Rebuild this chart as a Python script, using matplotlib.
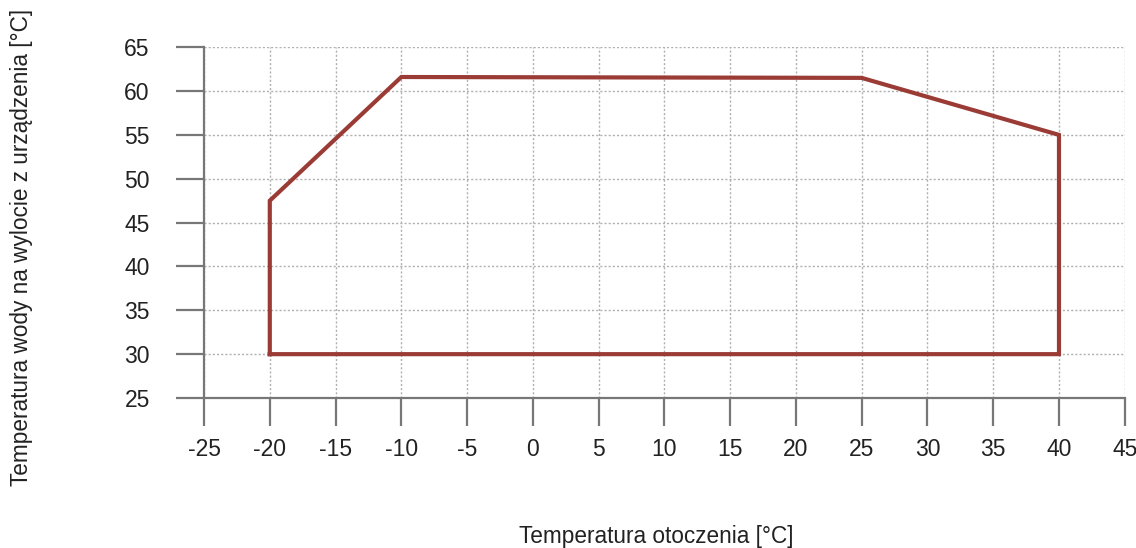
import matplotlib
matplotlib.use("Agg")
from matplotlib import rcParams

rcParams['font.family'] = ['Liberation Sans', 'DejaVu Sans']
rcParams['axes.unicode_minus'] = False
from matplotlib import pyplot as plt

# obszar pracy (temperatura otoczenia, temperatura wody)
ambient = [-20, -20, -10, 25, 40, 40, -20]
water = [30, 47.5, 61.6, 61.5, 55, 30, 30]

x_ticks = list(range(-25, 50, 5))
y_ticks = list(range(25, 70, 5))


def main():
    fig = plt.figure(figsize=(11.36, 5.48), dpi=100)
    ax = fig.add_axes([0.1796, 0.2737, 0.8105, 0.6402])

    ax.plot(ambient, water, color='#9b3b36', lw=3, solid_joinstyle='miter', zorder=3)

    ax.set_xlim(-25, 45)
    ax.set_ylim(25, 65)
    ax.set_xticks(x_ticks)
    ax.set_yticks(y_ticks)
    ax.grid(True, linestyle=(0, (1.5, 1.5)), color='#b0b0b0', lw=1)

    for s in ['top', 'right']:
        ax.spines[s].set_visible(False)
    for s in ['left', 'bottom']:
        ax.spines[s].set_color('#777777')
        ax.spines[s].set_linewidth(1.6)
    ax.tick_params(axis='both', length=20, width=1.6, color='#777777',
                   labelsize=16.5, labelcolor='#222222')
    ax.tick_params(axis='x', pad=9)
    ax.tick_params(axis='y', pad=19)

    fig.text(0.578, 0.0, "Temperatura otoczenia [°C]", ha='center', va='bottom',
             fontsize=16.3, color='#222222')
    fig.text(0.019, 0.548, "Temperatura wody na wylocie z urządzenia [°C]", ha='center',
             va='center', rotation=90, fontsize=16.3, color='#222222')

    plt.savefig("out.png", dpi=100)


if __name__ == "__main__":
    main()
